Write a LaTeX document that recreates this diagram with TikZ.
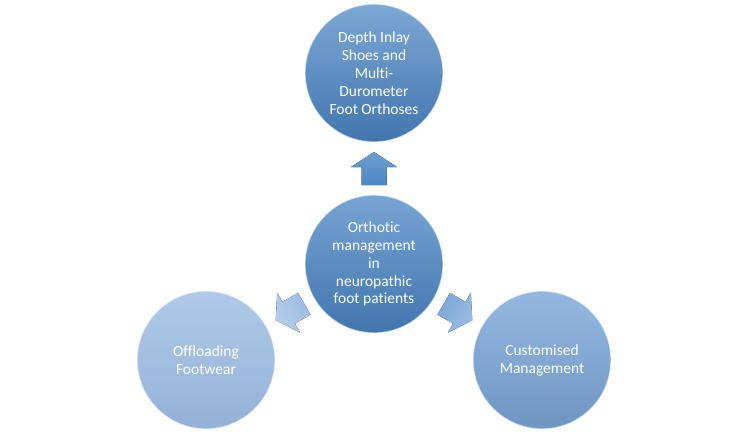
\documentclass[tikz,border=0pt]{standalone}
\usepackage{fontspec}
\setmainfont{Carlito}[Ligatures={NoCommon}]
\usetikzlibrary{calc}
\tikzset{
  bub/.style={circle, minimum size=138pt, inner sep=0pt, align=center, text=white,
    font=\fontsize{15.5pt}{17.9pt}\selectfont, draw=white, draw opacity=0.6, line width=1.3pt},
  blockarrow/.pic={
    \fill[pic actions] (0,16.5) -- (23,1.5) -- (12.5,1.5) -- (12.5,-16.5) -- (-12.5,-16.5) -- (-12.5,1.5) -- (-23,1.5) -- cycle;
  }
}
\definecolor{bluemain}{HTML}{4A86C5}
\definecolor{bluepale}{HTML}{9DBCE3}
\definecolor{bluemid}{HTML}{7AA6D9}
\begin{document}
\begin{tikzpicture}[x=1pt,y=1pt]
\useasboundingbox (0,0) rectangle (750,432);
\node[bub, top color=bluemain!72!white, bottom color=bluemain!88!black] (top) at (374,359) {Depth Inlay\\Shoes and\\Multi-\\Durometer\\Foot Orthoses};
\node[bub, top color=bluemain!75!white, bottom color=bluemain!88!black] (ctr) at (374,168) {Orthotic\\management\\in\\neuropathic\\foot patients};
\node[bub, top color=bluepale!80!white, bottom color=bluepale!94!black] (lft) at (206,72) {Offloading\\Footwear};
\node[bub, top color=bluemid!80!white, bottom color=bluemid!90!black] (rgt) at (542,72) {Customised\\Management};
\coordinate (aup) at ($(ctr)!0.5!(top)$);
\coordinate (alf) at ($(ctr)!0.5!(lft)$);
\coordinate (arg) at ($(ctr)!0.5!(rgt)$);
\pic[top color=bluemain!80!white, bottom color=bluemain] at (aup) {blockarrow};
\pic[rotate=120, top color=bluepale!75!white, bottom color=bluepale, shading angle=120] at (alf) {blockarrow};
\pic[rotate=-120, top color=bluemid!75!white, bottom color=bluemid, shading angle=-120] at (arg) {blockarrow};
\end{tikzpicture}
\end{document}
